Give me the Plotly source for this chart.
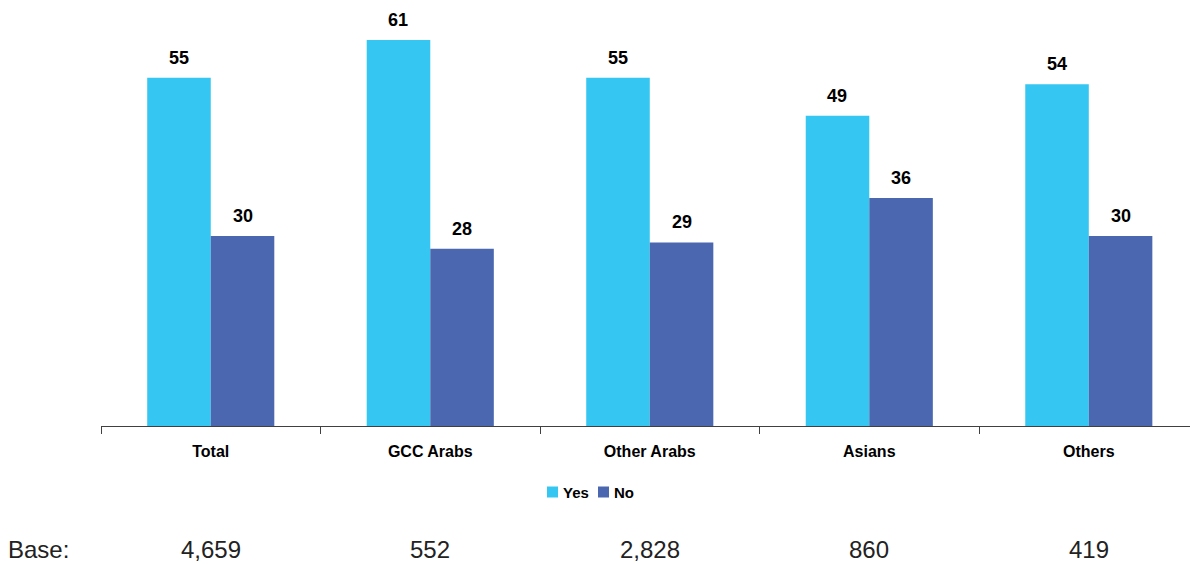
import plotly.graph_objects as go

# Survey responses by nationality group (%)
categories = ["Total", "GCC Arabs", "Other Arabs", "Asians", "Others"]
yes_values = [55, 61, 55, 49, 54]
no_values = [30, 28, 29, 36, 30]
base_counts = ["4,659", "552", "2,828", "860", "419"]

YES_COLOR = "#35C6F2"
NO_COLOR = "#4A67AF"
FONT = "Liberation Sans, Arial, sans-serif"

W, H = 1190, 564
M_L, M_B = 101, 138
PLOT_W, PLOT_H = W - M_L, H - M_B


def px_to_paper_x(px):
    return (px - M_L) / PLOT_W


def px_to_paper_y(py):
    return (PLOT_H - py) / PLOT_H


fig = go.Figure()
fig.add_trace(go.Bar(name="Yes", x=categories, y=yes_values, showlegend=False,
                     marker=dict(color=YES_COLOR, line=dict(width=0))))
fig.add_trace(go.Bar(name="No", x=categories, y=no_values, showlegend=False,
                     marker=dict(color=NO_COLOR, line=dict(width=0))))

# Value labels above each bar
offsets = {"Yes": -0.145, "No": 0.145}
for name, vals in (("Yes", yes_values), ("No", no_values)):
    for i, v in enumerate(vals):
        fig.add_annotation(x=i + offsets[name], y=v, xref="x", yref="y",
                           text=f"<b>{v}</b>", showarrow=False,
                           yanchor="bottom", yshift=8,
                           font=dict(family=FONT, size=18, color="#000000"))

# Compact legend: square swatches with bold labels
legend_y = px_to_paper_y(492)
sw_h = 11 / PLOT_H
legend_items = [("Yes", YES_COLOR, 547), ("No", NO_COLOR, 598)]
for label, color, sx in legend_items:
    fig.add_shape(type="rect", xref="paper", yref="paper",
                  x0=px_to_paper_x(sx), x1=px_to_paper_x(sx + 11),
                  y0=legend_y - sw_h / 2, y1=legend_y + sw_h / 2,
                  fillcolor=color, line=dict(width=0))
    fig.add_annotation(x=px_to_paper_x(sx + 14), y=legend_y, xref="paper", yref="paper",
                       text=f"<b>{label}</b>", showarrow=False,
                       xanchor="left", yanchor="middle",
                       font=dict(family=FONT, size=15, color="#000000"))

# Base sample sizes beneath the chart
base_y = px_to_paper_y(549)
fig.add_annotation(x=px_to_paper_x(6), y=base_y, xref="paper", yref="paper",
                   text="Base:", showarrow=False, xanchor="left", yanchor="middle",
                   font=dict(family=FONT, size=24, color="#222222"))
for i, b in enumerate(base_counts):
    fig.add_annotation(x=i, y=base_y, xref="x", yref="paper",
                       text=b, showarrow=False, xanchor="center", yanchor="middle",
                       font=dict(family=FONT, size=24, color="#222222"))

fig.update_layout(
    width=W, height=H,
    margin=dict(l=M_L, r=0, t=0, b=M_B, pad=0),
    paper_bgcolor="white", plot_bgcolor="white",
    barmode="group", bargap=0.421, bargroupgap=0,
    showlegend=False,
    font=dict(family=FONT),
)
fig.update_xaxes(
    type="category", range=[-0.5, 4.461],
    showline=True, linecolor="#404040", linewidth=1,
    ticks="outside", tickson="boundaries", ticklen=7, tickcolor="#404040",
    tickfont=dict(family=FONT, size=16, color="#000000"),
    tickprefix="<b>", ticksuffix="</b>", ticklabelstandoff=11,
    showgrid=False, zeroline=False,
)
fig.update_yaxes(range=[0, 67.3], visible=False, showgrid=False)

fig.write_html("out.html")
